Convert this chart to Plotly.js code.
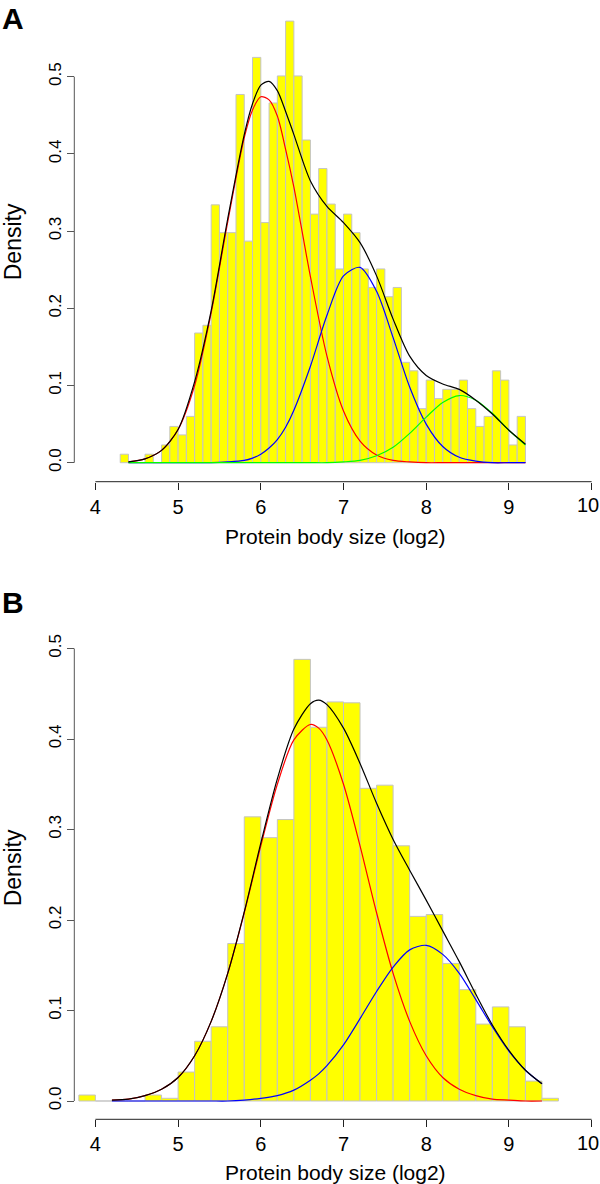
<!DOCTYPE html>
<html>
<head>
<meta charset="utf-8">
<script src="https://cdn.plot.ly/plotly-3.0.1.min.js"></script>
<style>
  body { margin: 0; padding: 0; background: white; }
  #chart { width: 600px; height: 1184px; }
</style>
</head>
<body>
<div id="chart"></div>
<script>
// Panel A histogram: bins of 0.1 starting at 4.3
var binStartA = 4.3;
var binWidthA = 0.1;
var densA = [0.011, 0, 0, 0.011, 0, 0.023, 0.047,
    0.036, 0.060, 0.168, 0.178, 0.334, 0.298, 0.298, 0.477, 0.287, 0.525,
    0.311, 0.466, 0.501, 0.572, 0.501, 0.418, 0.322, 0.381, 0.335, 0.251,
    0.322, 0.298, 0.251, 0.227, 0.251, 0.215, 0.227, 0.130, 0.119, 0.070,
    0.107, 0.083, 0.095, 0.095, 0.107, 0.070, 0.047, 0.060, 0.119, 0.107,
    0.023, 0.060];

// Panel A fitted curves
var curveXA = [4.4, 4.6, 4.8, 5.0, 5.2, 5.4, 5.6, 5.8, 5.9, 6.0, 6.1, 6.2, 6.3, 6.4,
    6.6, 6.8, 7.0, 7.2, 7.4, 7.6, 7.8, 8.0, 8.2, 8.4, 8.6, 8.8, 9.0, 9.2];
var redA = [0.001, 0.005, 0.016, 0.043, 0.100, 0.194, 0.312, 0.421, 0.457, 0.474, 0.470, 0.449, 0.406, 0.357,
    0.241, 0.138, 0.067, 0.028, 0.010, 0.003, 0.001, 0, 0, 0, 0, 0, 0, 0];
var blueA = [0, 0, 0, 0, 0, 0, 0.001, 0.003, 0.006, 0.011, 0.019, 0.030, 0.046, 0.068,
    0.125, 0.191, 0.242, 0.253, 0.222, 0.162, 0.098, 0.050, 0.021, 0.007, 0.002, 0, 0, 0];
var greenA = [0, 0, 0, 0, 0, 0, 0, 0, 0, 0, 0, 0, 0, 0,
    0, 0, 0.001, 0.003, 0.009, 0.020, 0.038, 0.059, 0.078, 0.087, 0.081, 0.064, 0.042, 0.023];
var blackA = [0.001, 0.005, 0.016, 0.043, 0.105, 0.197, 0.316, 0.425, 0.465, 0.489, 0.494, 0.482, 0.455, 0.425,
    0.365, 0.332, 0.311, 0.285, 0.242, 0.186, 0.138, 0.113, 0.102, 0.095, 0.081, 0.063, 0.042, 0.024];

// Panel B histogram: bins of 0.2 starting at 3.8
var binStartB = 3.8;
var binWidthB = 0.2;
var densB = [0.0066, 0, 0, 0, 0.0066, 0.003,
    0.032, 0.066, 0.082, 0.174, 0.314,
    0.291, 0.311, 0.488, 0.413, 0.441,
    0.440, 0.3455, 0.349, 0.282, 0.204,
    0.206, 0.152, 0.123, 0.085, 0.104,
    0.082, 0.022, 0.003];

// Panel B fitted curves
var curveXB = [4.2, 4.4, 4.6, 4.8, 5.0, 5.2, 5.4, 5.6, 5.8, 6.0, 6.2, 6.4, 6.6, 6.7, 6.8,
    7.0, 7.2, 7.4, 7.6, 7.8, 8.0, 8.2, 8.4, 8.6, 8.8, 9.0, 9.2, 9.4];
var redB = [0.001, 0.002, 0.006, 0.013, 0.026, 0.050, 0.088, 0.141, 0.208, 0.282, 0.350, 0.399, 0.416, 0.412, 0.399,
    0.350, 0.282, 0.208, 0.141, 0.088, 0.050, 0.026, 0.013, 0.006, 0.002, 0.001, 0, 0];
var blueB = [0, 0, 0, 0, 0, 0, 0, 0, 0.001, 0.003, 0.006, 0.012, 0.023, 0.030, 0.039,
    0.062, 0.091, 0.121, 0.148, 0.167, 0.172, 0.162, 0.141, 0.112, 0.082, 0.055, 0.034, 0.019];
var blackB = [0.001, 0.002, 0.006, 0.013, 0.026, 0.050, 0.088, 0.141, 0.209, 0.285, 0.356, 0.411, 0.439, 0.443, 0.438,
    0.412, 0.373, 0.329, 0.289, 0.255, 0.222, 0.188, 0.154, 0.118, 0.084, 0.056, 0.034, 0.019];

var xTicks = [4, 5, 6, 7, 8, 9, 10];
var xTickText = ['4', '5', '6', '7', '8', '9', ''];   // "10" is placed as an annotation so it is not cut at the edge
var yTicks = [0, 0.1, 0.2, 0.3, 0.4, 0.5];
var yTickText = ['0.0', '0.1', '0.2', '0.3', '0.4', '0.5'];

function centers(start, width, n) {
    return Array.from({ length: n }, (_, i) => +(start + width * (i + 0.5)).toFixed(3));
}

// pixel calibration of the page (600 x 1184)
var W = 600, H = 1184;
var pxX4 = 95.4, pxPerX = 82.7;
var xr0 = 3.7, xr1 = xr0 + (W - (pxX4 + (xr0 - 4) * pxPerX)) / pxPerX;
var xDom = [(pxX4 + (xr0 - 4) * pxPerX) / W, 1];

var y0A = 462.7, pxPerYA = 772;
var y0B = 1101, pxPerYB = 905;
var yrA = [-0.02, 0.592], yrB = [-0.015, 0.53];
function dom(y0, k, r) { return [1 - (y0 - r[0] * k) / H, 1 - (y0 - r[1] * k) / H]; }

var barStyle = { color: '#ffff00', line: { color: '#c4c4c4', width: 1 } };

function hist(start, width, dens, xa, ya) {
    return {
        type: 'bar', x: centers(start, width, dens.length), y: dens, width: width,
        marker: barStyle, xaxis: xa, yaxis: ya, hoverinfo: 'skip'
    };
}
function curve(xs, vals, color, xa, ya) {
    return {
        type: 'scatter', mode: 'lines', x: xs, y: vals,
        line: { color: color, width: 1.2, shape: 'spline', smoothing: 0.8 },
        xaxis: xa, yaxis: ya, hoverinfo: 'skip'
    };
}

var data = [
    hist(binStartA, binWidthA, densA, 'x', 'y'),
    curve(curveXA, redA, '#ff0000', 'x', 'y'),
    curve(curveXA, blueA, '#0000ff', 'x', 'y'),
    curve(curveXA, greenA, '#00ff00', 'x', 'y'),
    curve(curveXA, blackA, '#000000', 'x', 'y'),
    hist(binStartB, binWidthB, densB, 'x2', 'y2'),
    curve(curveXB, redB, '#ff0000', 'x2', 'y2'),
    curve(curveXB, blueB, '#0000ff', 'x2', 'y2'),
    curve(curveXB, blackB, '#000000', 'x2', 'y2')
];

function xAxis(posPx) {
    return {
        domain: xDom, range: [xr0, xr1], anchor: 'free', position: 1 - posPx / H,
        tickmode: 'array', tickvals: xTicks, ticktext: xTickText, ticks: 'outside', ticklen: 7, tickcolor: '#222',
        tickfont: { size: 20, color: 'black' },
        showline: false, showgrid: false, zeroline: false,
        title: { text: 'Protein body size (log2)', font: { size: 21, color: 'black' }, standoff: 12 }
    };
}
function yAxis(y0, k, r) {
    return {
        domain: dom(y0, k, r), range: r, anchor: 'free', position: 74.3 / W,
        tickmode: 'array', tickvals: yTicks, ticktext: yTickText, tickangle: -90,
        ticks: 'outside', ticklen: 7, tickcolor: '#555', tickfont: { size: 17, color: 'black' },
        showline: false, showgrid: false, zeroline: false,
        title: { text: 'Density', font: { size: 23, color: 'black' }, standoff: 20 }
    };
}

function tenLabel(yPx) {
    return { text: '10', xref: 'paper', yref: 'paper', x: 1, y: 1 - yPx / H, xanchor: 'right', yanchor: 'middle',
        showarrow: false, borderpad: 0, font: { size: 20, color: 'black' } };
}

var layout = {
    width: W, height: H,
    margin: { l: 0, r: 0, t: 0, b: 0 },
    paper_bgcolor: 'white', plot_bgcolor: 'white',
    font: { family: 'Liberation Sans, Arial, sans-serif', color: 'black' },
    showlegend: false, bargap: 0,
    xaxis: xAxis(481.7),
    yaxis: yAxis(y0A, pxPerYA, yrA),
    xaxis2: xAxis(1119.3),
    yaxis2: yAxis(y0B, pxPerYB, yrB),
    shapes: [
        { type: 'line', xref: 'x', yref: 'paper', x0: 4, x1: 10, y0: 1 - 481.7 / H, y1: 1 - 481.7 / H, line: { color: '#222', width: 1 } },
        { type: 'line', xref: 'paper', yref: 'y', x0: 74.3 / W, x1: 74.3 / W, y0: 0, y1: 0.5, line: { color: '#555', width: 1 } },
        { type: 'line', xref: 'x2', yref: 'paper', x0: 4, x1: 10, y0: 1 - 1119.3 / H, y1: 1 - 1119.3 / H, line: { color: '#222', width: 1 } },
        { type: 'line', xref: 'paper', yref: 'y2', x0: 74.3 / W, x1: 74.3 / W, y0: 0, y1: 0.5, line: { color: '#555', width: 1 } }
    ],
    annotations: [
        { text: '<b>A</b>', xref: 'paper', yref: 'paper', x: 13 / W, y: 1 - 19 / H, xanchor: 'center', yanchor: 'middle', showarrow: false, font: { size: 30, color: 'black' } },
        { text: '<b>B</b>', xref: 'paper', yref: 'paper', x: 13 / W, y: 1 - 602 / H, xanchor: 'center', yanchor: 'middle', showarrow: false, font: { size: 30, color: 'black' } },
        tenLabel(505),
        tenLabel(1143)
    ]
};

Plotly.newPlot('chart', data, layout, { staticPlot: true });
</script>
</body>
</html>
